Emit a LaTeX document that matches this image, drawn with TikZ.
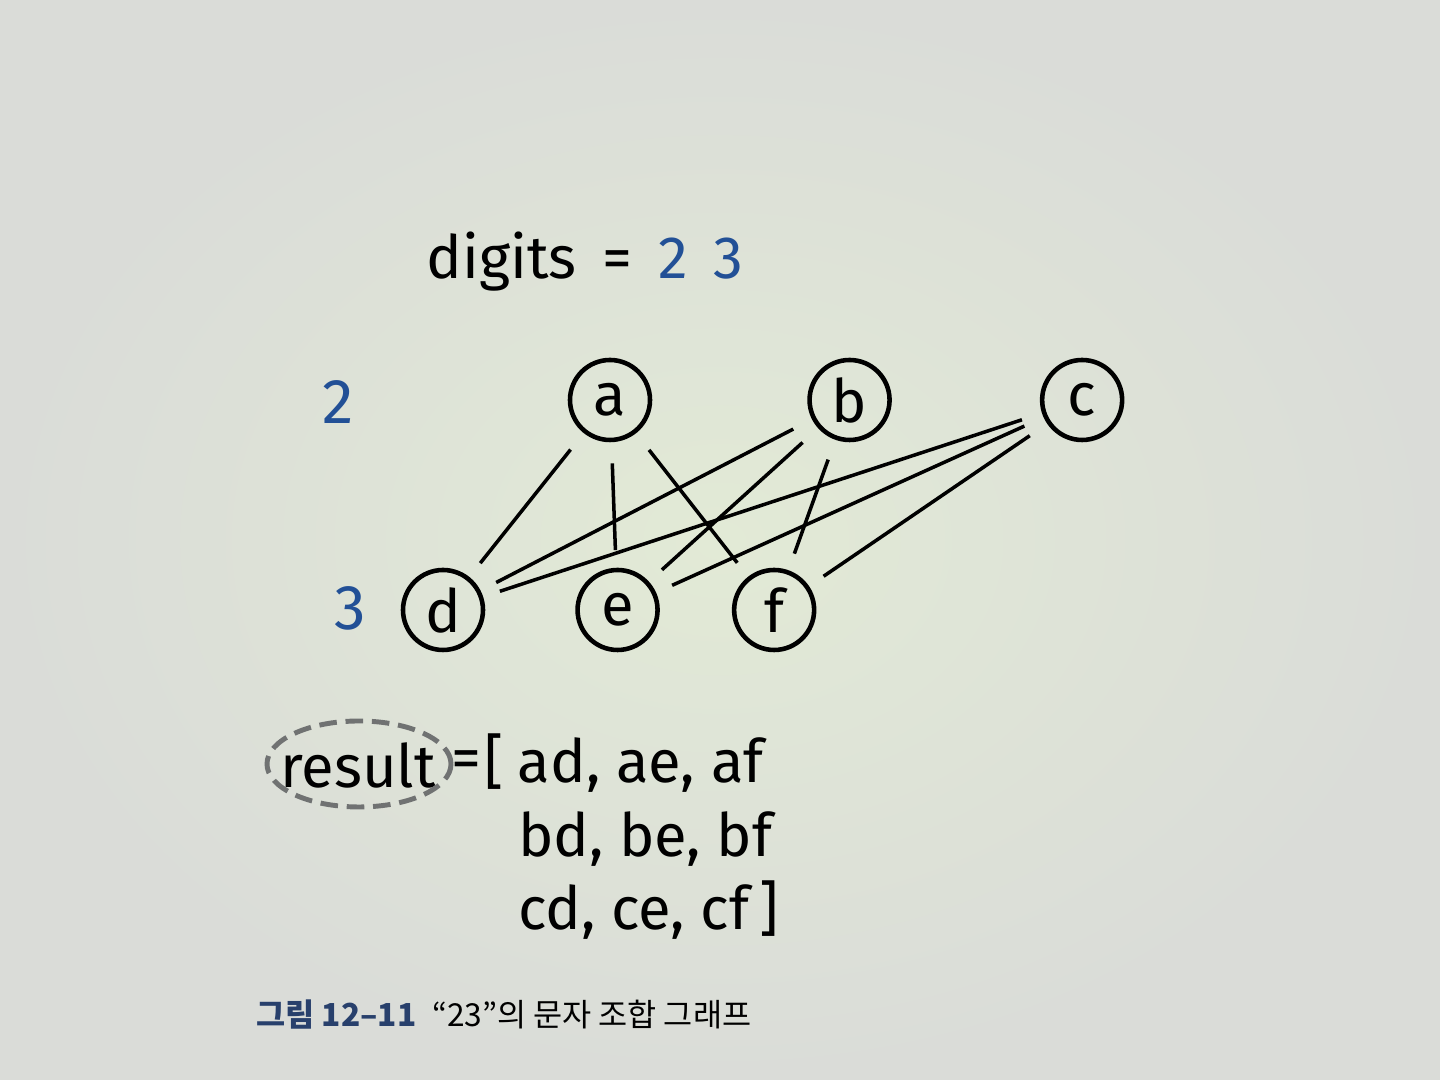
\documentclass[tikz,border=0pt]{standalone}
\usepackage{fontspec}
\setmainfont{Fira Sans}
\newfontfamily\krfont{Noto Sans CJK KR}
\usetikzlibrary{positioning}
\definecolor{colorbg}     {RGB}{218,220,216}
\definecolor{colorglow}   {RGB}{226,234,214}
\definecolor{colordigit}  {RGB}{34,80,150}
\definecolor{colorcaption}{RGB}{40,64,108}
\definecolor{colordash}   {RGB}{112,114,114}

\begin{document}
\begin{tikzpicture}[
    font={\fontsize{17}{21}\selectfont},
    letter/.style={circle,draw,line width=1.3pt,minimum size=0.8cm,inner sep=0pt},
    digit/.style={text=colordigit,font={\fontsize{18}{21}\selectfont}},
    edge/.style={line width=1pt,shorten <=6pt,shorten >=5pt},
]

    % Page
    \shade[inner color=colorglow,outer color=colorbg] (0,0) rectangle (14.4,10.8);
    \useasboundingbox (0,0) rectangle (14.4,10.8);

    % Input
    \node (digits) at (5.85,8.18) {digits\, =\, \textcolor{colordigit}{2\, 3}};

    % Letters of each digit
    \node[letter] (a) at (6.10,6.80) {a};
    \node[letter, right=1.55cm of a] (b) {b};
    \node[letter, right=1.48cm of b] (c) {c};

    \node[letter] (d) at (4.43,4.70) {d};
    \node[letter, right=0.90cm of d] (e) {e};
    \node[letter, right=0.72cm of e] (f) {f};

    \node[digit] (two)   at (3.38,6.78) {2};
    \node[digit] (three) at (3.50,4.72) {3};

    % Combinations
    \foreach \x in {a,b,c}
        \foreach \y in {d,e,f}
            \draw[edge] (\x) -- (\y);

    % Output
    \node[inner sep=1pt] (result) at (3.58,3.15) {result};
    \draw[colordash,dash pattern=on 5pt off 2.5pt,line width=1.4pt]
        (3.59,3.16) ellipse [x radius=0.92cm, y radius=0.43cm];
    \node[right=3pt of result,inner sep=0pt] (eq) {=};
    \node[anchor=north west,inner sep=0pt] (list) at (4.84,3.50) {%
        \begin{tabular}{@{}l@{\hspace{4pt}}l@{}}
            [ & ad, ae, af \\
              & bd, be, bf \\
              & cd, ce, cf\,]
        \end{tabular}};

    % Caption
    \node[anchor=west,font={\krfont\fontsize{9}{12}\selectfont}] (caption) at (2.44,0.65)
        {\textcolor{colorcaption}{\bfseries 그림 12–11}\enspace “23”의 문자 조합 그래프};

\end{tikzpicture}
\end{document}
